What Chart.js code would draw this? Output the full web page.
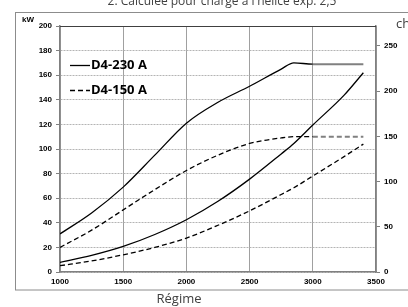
<!DOCTYPE html>
<html>
<head>
<meta charset="utf-8">
<script src="https://cdn.jsdelivr.net/npm/chart.js@4"></script>
<style>
    html, body { margin: 0; padding: 0; background: #fff; }
    #wrap { width: 408px; height: 307px; position: relative; }
</style>
</head>
<body>
<div id="wrap"><canvas id="powerChart" width="408" height="307"></canvas></div>
<script>
const rpm = [1000, 1250, 1500, 1750, 2000, 2250, 2500, 2750, 2850, 3000, 3250, 3400];
const d4230Power = [31, 48, 69, 95, 121, 138, 151, 165, 170, 169, 169, 169];
const d4230Propeller = [7.8, 13.5, 20.8, 30.5, 42.5, 57.5, 75.5, 96, 104.5, 119.5, 144, 162];
const d4150Power = [20, 34, 50.5, 67, 82.5, 95, 104.5, 109, 110, 110, 110, 110];
const d4150Propeller = [5.1, 9, 14, 20, 27.6, 38, 49.7, 63, 68.5, 78, 94, 104];

const rpmTicks = [1000, 1500, 2000, 2500, 3000, 3500];
const kwTicks = [0, 20, 40, 60, 80, 100, 120, 140, 160, 180, 200];
const chTicks = [0, 50, 100, 150, 200, 250];
const kwToCh = 1.36;

const chartTitle = "2. Calculée pour charge à l'hélice exp. 2,5";
const xTitle = "Régime";
const legendNames = ["D4-230 A", "D4-150 A"];

const font = "'Liberation Sans', Arial, sans-serif";
Chart.defaults.font.family = font;

function points(values) {
    return values.map((v, i) => ({ x: rpm[i], y: v }));
}

// flat full-power part is drawn in grey, like the original
function flatGrey(ctx) {
    return ctx.p0.parsed.x >= 3000 ? "#808080" : "#000";
}
function flatWidth(ctx) {
    return ctx.p0.parsed.x >= 3000 ? 2 : 1.3;
}

function makeSet(label, values, dashed, greyFlat) {
    const set = {
        label: label,
        data: points(values),
        borderColor: "#000",
        borderWidth: 1.3,
        borderDash: dashed ? [5, 3] : [],
        pointRadius: 0,
        fill: false,
        cubicInterpolationMode: "monotone",
    };
    if (greyFlat) {
        set.segment = { borderColor: flatGrey, borderWidth: flatWidth };
    }
    return set;
}

const plainNumber = (v) => String(v);

const decorations = {
    id: "decorations",
    afterDraw(chart) {
        const { ctx, chartArea: a } = chart;
        ctx.save();

        // outer frame
        ctx.strokeStyle = "#8c8c8c";
        ctx.lineWidth = 1;
        ctx.strokeRect(15.5, 12.5, 430, 277.5);

        // top border of the plot area
        ctx.strokeStyle = "#404040";
        ctx.beginPath();
        ctx.moveTo(a.left, a.top + 0.5);
        ctx.lineTo(a.right, a.top + 0.5);
        ctx.stroke();

        ctx.fillStyle = "#404040";
        ctx.textBaseline = "alphabetic";
        ctx.textAlign = "center";
        ctx.font = "12px 'Open Sans', sans-serif";
        ctx.fillText(chartTitle, 222, 5);

        ctx.font = "13px 'Open Sans', sans-serif";
        ctx.fillText(xTitle, 179, 303);

        ctx.textAlign = "left";
        ctx.fillText("ch", 396, 28);

        ctx.fillStyle = "#000";
        ctx.font = "bold 8px " + font;
        ctx.fillText("kW", 22, 22);

        // legend inside the plot
        ctx.font = "bold 13px 'Open Sans', sans-serif";
        ctx.textBaseline = "middle";
        legendNames.forEach((name, i) => {
            const y = 65 + i * 25;
            ctx.strokeStyle = "#000";
            ctx.lineWidth = 1.3;
            ctx.setLineDash(i === 0 ? [] : [5, 3]);
            ctx.beginPath();
            ctx.moveTo(70, y + 0.5);
            ctx.lineTo(90, y + 0.5);
            ctx.stroke();
            ctx.fillText(name, 91, y);
        });
        ctx.restore();
    },
};

new Chart(document.getElementById("powerChart"), {
    type: "line",
    data: {
        datasets: [
            makeSet(legendNames[0], d4230Power, false, true),
            makeSet(legendNames[0], d4230Propeller, false, false),
            makeSet(legendNames[1], d4150Power, true, true),
            makeSet(legendNames[1], d4150Propeller, true, false),
        ],
    },
    options: {
        responsive: false,
        animation: false,
        layout: { padding: { top: 26, left: 0, right: 0, bottom: 0 } },
        plugins: { legend: { display: false }, tooltip: { enabled: false } },
        scales: {
            x: {
                type: "linear",
                min: rpmTicks[0],
                max: rpmTicks[rpmTicks.length - 1],
                afterBuildTicks: (s) => { s.ticks = rpmTicks.map((v) => ({ value: v })); },
                afterFit: (s) => { s.height = 35; },
                ticks: { color: "#000", font: { size: 8, weight: "bold" }, padding: 5, callback: plainNumber },
                grid: { color: "#a0a0a0", lineWidth: 1, drawTicks: false },
                border: { color: "#808080", width: 1.5 },
            },
            y: {
                min: 0,
                max: kwTicks[kwTicks.length - 1],
                afterBuildTicks: (s) => { s.ticks = kwTicks.map((v) => ({ value: v })); },
                afterFit: (s) => { s.width = 60; },
                ticks: { color: "#000", font: { size: 8, weight: "bold" }, padding: 4, callback: plainNumber },
                grid: { color: "#b4b4b4", lineWidth: 1, tickLength: 4, tickColor: "#808080" },
                border: { color: "#808080", width: 1.5, dash: [2, 1] },
            },
            y1: {
                position: "right",
                min: 0,
                max: kwTicks[kwTicks.length - 1] * kwToCh,
                afterBuildTicks: (s) => { s.ticks = chTicks.map((v) => ({ value: v })); },
                afterFit: (s) => { s.width = 32; },
                ticks: { color: "#000", font: { size: 8, weight: "bold" }, padding: 4, callback: plainNumber },
                grid: { drawOnChartArea: false, tickLength: 4, tickColor: "#808080" },
                border: { color: "#808080", width: 1.5 },
            },
        },
    },
    plugins: [decorations],
});
</script>
</body>
</html>
